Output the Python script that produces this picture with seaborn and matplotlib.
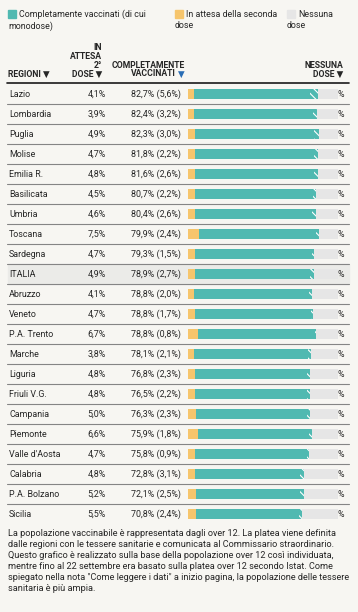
import matplotlib
matplotlib.use('Agg')
import matplotlib.pyplot as plt
import seaborn as sns
import pandas as pd
from matplotlib.patches import Rectangle

# --- dati ---
regioni = ['Lazio', 'Lombardia', 'Puglia', 'Molise', 'Emilia R.', 'Basilicata',
           'Umbria', 'Toscana', 'Sardegna', 'ITALIA', 'Abruzzo', 'Veneto',
           'P.A. Trento', 'Marche', 'Liguria', 'Friuli V.G.', 'Campania',
           'Piemonte', "Valle d'Aosta", 'Calabria', 'P.A. Bolzano', 'Sicilia']
attesa = [4.1, 3.9, 4.9, 4.7, 4.8, 4.5, 4.6, 7.5, 4.7, 4.9, 4.1, 4.7,
          6.7, 3.8, 4.8, 4.8, 5.0, 6.6, 4.7, 4.8, 5.2, 5.5]
completi = [82.7, 82.4, 82.3, 81.8, 81.6, 80.7, 80.4, 79.9, 79.3, 78.9, 78.8, 78.8,
            78.8, 78.1, 76.8, 76.5, 76.3, 75.9, 75.8, 72.8, 72.1, 70.8]
monodose = [5.6, 3.2, 3.0, 2.2, 2.6, 2.2, 2.6, 2.4, 1.5, 2.7, 2.0, 1.7,
            0.8, 2.1, 2.3, 2.2, 2.3, 1.8, 0.9, 3.1, 2.5, 2.4]

legenda = ['Completamente vaccinati (di cui', 'In attesa della seconda', 'Nessuna']
legenda2 = ['monodose)', 'dose', 'dose']

nota = [
    "La popolazione vaccinabile è rappresentata dagli over 12. La platea viene definita",
    "dalle regioni con le tessere sanitarie e comunicata al Commissario straordinario.",
    "Questo grafico è realizzato sulla base della popolazione over 12 così individuata,",
    "mentre fino al 22 settembre era basato sulla platea over 12 secondo Istat. Come",
    "spiegato nella nota \"Come leggere i dati\" a inizio pagina, la popolazione delle tessere",
    "sanitaria è più ampia.",
]

df = pd.DataFrame({'regione': regioni, 'attesa': attesa,
                   'completi': completi, 'monodose': monodose})
df['fine_completi'] = df['attesa'] + df['completi']
df['fine_pieni'] = df['fine_completi'] - df['monodose']
df['totale'] = 100.0

# --- stile ---
BG = '#f7f6f2'
TEAL = '#50b9b1'
YELLOW = '#f6c56c'
GREY = '#e6e6e6'
TXT = '#262626'
FS = 6.4

sns.set_theme(style='white')
plt.rcParams['font.family'] = ['Roboto', 'DejaVu Sans']
plt.rcParams['hatch.color'] = 'white'
plt.rcParams['hatch.linewidth'] = 0.8

W, H = 358, 612
fig = plt.figure(figsize=(W / 100, H / 100), dpi=100, facecolor=BG)
top_px, row_h = 84.3, 20
n = len(regioni)
ax = fig.add_axes([0, 1 - (top_px + row_h * n) / H, 1, row_h * n / H])
ax.set_facecolor('none')
x0, scale = 188, 1.5

# riga ITALIA evidenziata
i_it = regioni.index('ITALIA')
ax.axhspan(i_it - 0.5, i_it + 0.5, xmin=8 / W, xmax=349 / W, color='#ebebe8', zorder=0)

common = dict(data=df, y='regione', order=regioni, orient='h', width=0.5,
              saturation=1, linewidth=0, ax=ax)
sns.barplot(x='totale', color=GREY, **common)
n0 = len(ax.patches)
sns.barplot(x='fine_completi', color=TEAL, **common)
for p in ax.patches[n0:]:
    p.set_hatch('\\\\\\\\')
    p.set_edgecolor('white')
    p.set_linewidth(0)
sns.barplot(x='fine_pieni', color=TEAL, **common)
sns.barplot(x='attesa', color=YELLOW, **common)

ax.set_xlim(-x0 / scale, (W - x0) / scale)
ax.set_ylim(n - 0.5, -0.5)
ax.axis('off')

# linee di separazione
for i in range(n - 1):
    ax.axhline(i + 0.5, xmin=7 / W, xmax=349 / W, color='#858585', lw=0.8, zorder=5)
ax.axhline(-0.57, xmin=7 / W, xmax=349 / W, color='#1a1a1a', lw=1.2, clip_on=False)

# testi delle righe
tr = ax.get_yaxis_transform()
def pct(v):
    return f"{v:.1f}%".replace('.', ',')
for i, r in enumerate(regioni):
    ax.text(9 / W, i, r, transform=tr, ha='left', va='center', fontsize=FS, color=TXT)
    ax.text(106 / W, i, pct(attesa[i]), transform=tr, ha='right', va='center',
            fontsize=FS, color=TXT)
    ax.text(181 / W, i, f"{pct(completi[i])} ({pct(monodose[i])})", transform=tr,
            ha='right', va='center', fontsize=FS, color=TXT)
    ax.text(344 / W, i, '%', transform=tr, ha='right', va='center', fontsize=FS, color=TXT)

# intestazioni
def ftext(x, y, s, **kw):
    fig.text(x / W, 1 - y / H, s, va='center', **kw)

HFS = 6.2
hk = dict(fontsize=HFS, fontweight='bold', color=TXT)
ftext(8, 74, 'REGIONI ▼', ha='left', **hk)
for y, s in zip([47.5, 56.4, 65.3, 74], ['IN', 'ATTESA', '2°', 'DOSE ▼']):
    ftext(102, y, s, ha='right', **hk)
ftext(185, 65.3, 'COMPLETAMENTE', ha='right', **hk)
ftext(175.5, 74, 'VACCINATI', ha='right', **hk)
ftext(185, 74, '▼', ha='right', fontsize=HFS, fontweight='bold', color='#2a6db5')
ftext(343, 65.3, 'NESSUNA', ha='right', **hk)
ftext(343, 74, 'DOSE ▼', ha='right', **hk)

# legenda
for xs, col, t1, t2 in zip([8, 175, 287], [TEAL, YELLOW, GREY], legenda, legenda2):
    fig.add_artist(Rectangle((xs / W, 1 - 18 / H), 8 / W, 8 / H, color=col,
                             transform=fig.transFigure))
    ftext(xs + 11, 14.5, t1, ha='left', fontsize=FS, color=TXT)
    ftext(xs, 26, t2, ha='left', fontsize=FS, color=TXT)

# nota
for k, riga in enumerate(nota):
    ftext(8, 533.3 + 11 * k, riga, ha='left', fontsize=6.6, color=TXT)

fig.savefig('out.png', dpi=100, facecolor=BG)
